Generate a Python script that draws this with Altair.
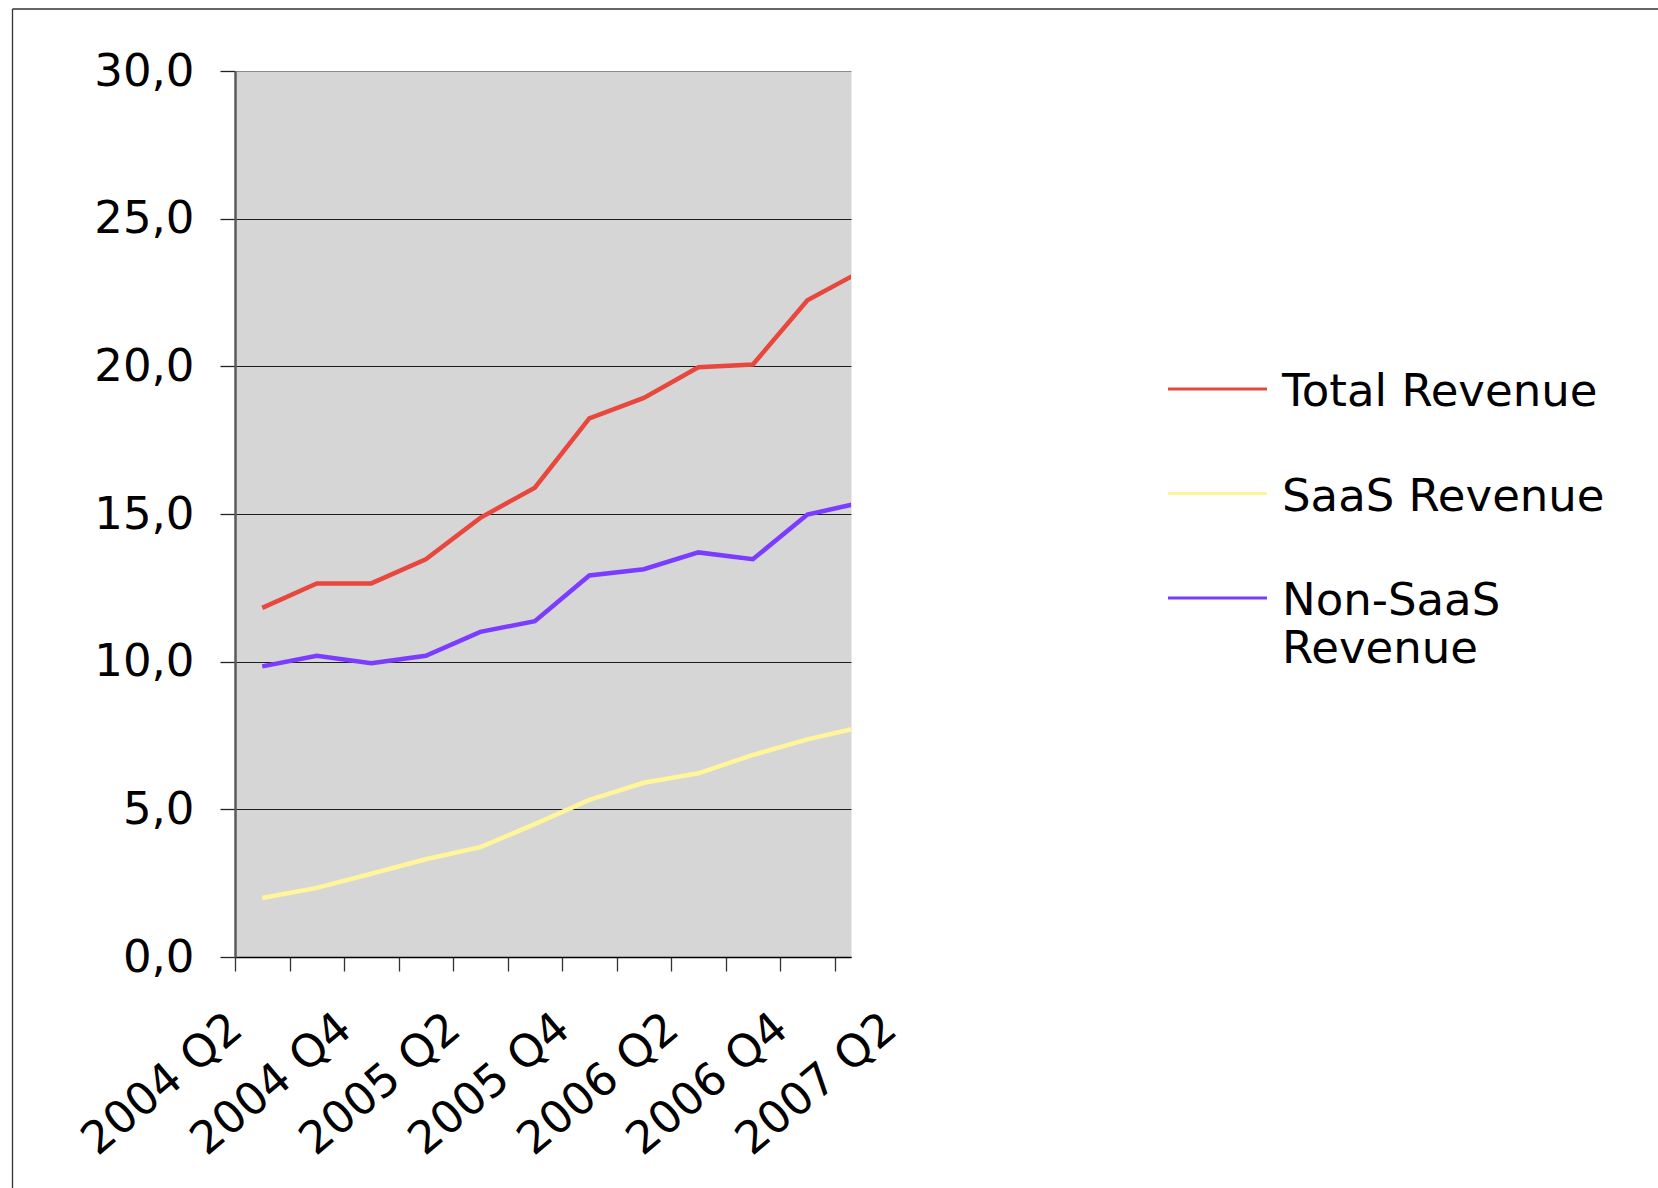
import altair as alt
import pandas as pd

# Quarterly revenue (millions), one value per quarter
quarters = ["2004 Q2", "2004 Q3", "2004 Q4", "2005 Q1", "2005 Q2", "2005 Q3",
            "2005 Q4", "2006 Q1", "2006 Q2", "2006 Q3", "2006 Q4", "2007 Q1"]
total_revenue = [11.82, 12.65, 12.65, 13.47, 14.87, 15.89, 18.24, 18.93, 19.97, 20.06, 22.24, 23.23]
saas_revenue = [2.00, 2.34, 2.82, 3.31, 3.72, 4.50, 5.32, 5.90, 6.22, 6.84, 7.37, 7.79]
non_saas_revenue = [9.84, 10.20, 9.95, 10.20, 11.01, 11.37, 12.92, 13.13, 13.70, 13.47, 14.98, 15.39]

# Category labels shown on the x axis (every second quarter)
axis_labels = ["2004 Q2", "2004 Q4", "2005 Q2", "2005 Q4", "2006 Q2", "2006 Q4", "2007 Q2"]
y_ticks = [0, 5, 10, 15, 20, 25, 30]

series_names = ["Total Revenue", "SaaS Revenue", "Non-SaaS Revenue"]
series_labels = ["Total Revenue", "SaaS Revenue", "Non-SaaS\nRevenue"]
series_colors = ["#e8473e", "#fff59a", "#7b3cff"]

FONT = "DejaVu Sans"
FS = 45
W, H = 616, 886


def slot(label):
    """Band index of a 'YYYY Qn' label, counted from 2004 Q2."""
    year, q = label.split(" Q")
    return (int(year) - 2004) * 4 + int(q) - 2


rows = []
for name, vals in zip(series_names, [total_revenue, saas_revenue, non_saas_revenue]):
    for q, v in zip(quarters, vals):
        rows.append({"quarter": q, "pos": slot(q) + 0.5, "value": v, "series": name})
df = pd.DataFrame(rows)

lab_df = pd.DataFrame({"label": axis_labels, "pos": [slot(l) + 0.5 for l in axis_labels]})
leg_df = pd.DataFrame({"series": series_names, "text": series_labels, "row": [0, 1, 2]})
one = pd.DataFrame({"k": [0]})

xscale = alt.Scale(domain=[0, 11.3], nice=False, zero=False)
yscale = alt.Scale(domain=[0, 30], nice=False, zero=True)
color = alt.Color("series:N", scale=alt.Scale(domain=series_names, range=series_colors), legend=None)

x_axis = alt.Axis(values=list(range(12)), labels=False, tickSize=14, tickColor="#333333",
                  tickWidth=1.3, domainColor="#000000", domainWidth=1.5, grid=False, title=None)
y_axis = alt.Axis(values=y_ticks, labelExpr="replace(format(datum.value, '.1f'), '.', ',')",
                  labelFont=FONT, labelFontSize=FS, labelColor="#000000", labelPadding=26,
                  tickSize=15, tickColor="#222222", tickWidth=1.3,
                  domainColor="#5a5a5a", domainWidth=2.5,
                  grid=True, gridWidth=1.2,
                  gridColor={"condition": {"test": "datum.value == 30", "value": "#8a8a8a"},
                             "value": "#1c1c1c"},
                  title=None)

lines = alt.Chart(df).mark_line(strokeWidth=4.5, clip=True).encode(
    x=alt.X("pos:Q", scale=xscale, axis=x_axis),
    y=alt.Y("value:Q", scale=yscale, axis=y_axis),
    color=color,
)

# Rotated category labels; dx/dy act along the rotated text direction
x_labels = alt.Chart(lab_df).mark_text(
    angle=320, align="right", baseline="middle", dx=-18, dy=-19,
    font=FONT, fontSize=FS, color="#000000"
).encode(
    x=alt.X("pos:Q", scale=xscale, axis=x_axis),
    y=alt.value(H + 68),
    text="label:N",
)

leg_scale = alt.Scale(domain=[0, 2], range=[318, 527], nice=False, zero=False)
legend_lines = alt.Chart(leg_df).mark_rule(strokeWidth=3).encode(
    x=alt.value(933), x2=alt.value(1032),
    y=alt.Y("row:Q", scale=leg_scale, axis=None),
    color=color,
)
legend_text = alt.Chart(leg_df).mark_text(
    align="left", baseline="top", dy=-19, lineBreak="\n", lineHeight=48,
    font=FONT, fontSize=FS, color="#000000"
).encode(
    x=alt.value(1047),
    y=alt.Y("row:Q", scale=leg_scale, axis=None),
    text="text:N",
)

# Outer frame of the chart (top and left edges)
frame_top = alt.Chart(one).mark_rule(color="#333333", strokeWidth=1.3).encode(
    x=alt.value(-222.5), x2=alt.value(1500), y=alt.value(-62)
)
frame_left = alt.Chart(one).mark_rule(color="#333333", strokeWidth=1.3).encode(
    x=alt.value(-222.5), y=alt.value(-62), y2=alt.value(1200)
)

chart = alt.layer(
    frame_top, frame_left, lines, x_labels, legend_lines, legend_text
).resolve_scale(
    y="independent"
).properties(
    width=W, height=H,
    autosize=alt.AutoSizeParams(type="none"),
    padding={"left": 235, "top": 71, "right": 1658 - 235 - W, "bottom": 1188 - 71 - H},
    background="#ffffff",
).configure_view(
    fill="#d6d6d6", stroke="transparent"
)

chart.save("out.html", embed_options={"renderer": "svg", "actions": False})
